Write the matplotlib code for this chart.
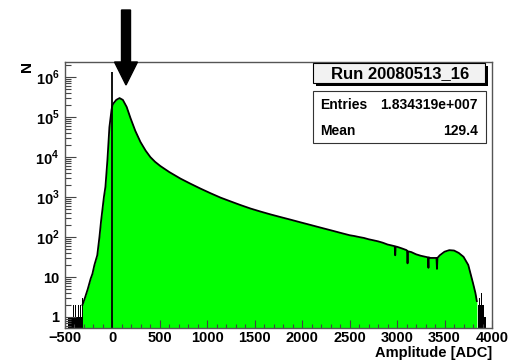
import matplotlib
matplotlib.use('Agg')
import matplotlib.pyplot as plt
from matplotlib.patches import Rectangle, FancyArrow
from matplotlib.ticker import FixedLocator, FixedFormatter, MultipleLocator, LogLocator, NullFormatter
import numpy as np

plt.rcParams['font.family'] = ['Liberation Sans', 'DejaVu Sans']
plt.rcParams['font.weight'] = 'bold'
plt.rcParams['mathtext.fontset'] = 'custom'
plt.rcParams['mathtext.rm'] = 'Liberation Sans:bold'
plt.rcParams['mathtext.bf'] = 'Liberation Sans:bold'

# amplitude spectrum (ADC, counts)
adc = [-316, -290, -260, -230, -211, -190, -160, -137, -120, -105, -90, -74, -53, -32, -10, 0,
       10, 40, 75, 110, 150, 190, 240, 295, 350, 400, 450, 506, 600, 717, 820, 928, 1030, 1139,
       1250, 1350, 1456, 1561, 1665, 1772, 1880, 1983, 2090, 2194, 2300, 2405,
       2500, 2550, 2600, 2650, 2700, 2750, 2800, 2850, 2900, 2950, 2975, 2980, 2985, 3000, 3050,
       3100, 3105, 3110, 3115, 3150, 3200, 3250, 3300, 3325, 3330, 3335, 3350, 3400, 3415, 3420,
       3425, 3450, 3500, 3550, 3600, 3650, 3700, 3750, 3800, 3825, 3840]
counts = [2, 3, 5, 9, 12, 20, 35, 100, 250, 500, 1000, 1800, 8400, 56000, 150000, 200000,
          220000, 270000, 300000, 270000, 180000, 95000, 46000, 24000, 14500, 10000, 7600, 5960,
          4220, 2900, 2175, 1630, 1260, 970, 772, 631, 516, 434, 369, 316, 271, 233, 200, 172,
          148, 127, 111, 106, 100, 95, 88, 83, 78, 72, 65, 61, 59, 35, 58, 57, 52,
          47, 45, 22, 44, 42, 37, 34, 32, 31, 17, 31, 30, 30, 30, 16, 30, 35, 43, 47, 46, 40,
          32, 20, 7, 4, 2.5]

# pedestal spike
ped_adc = 0
ped_count = 1.33e6

# sparse noise bins at both ends
noise_lo_adc = [-470, -460, -450, -440, -430, -420, -410, -400, -390, -380, -370, -360, -350, -340, -330, -320]
noise_lo = [1, 1, 1, 1, 1, 2, 1, 1, 2, 1, 1, 2, 1, 2, 1, 3]
noise_hi_adc = [3850, 3860, 3870, 3880, 3890, 3900, 3910, 3920, 3930]
noise_hi = [2, 3, 2, 4, 2, 1, 2, 1, 1]

run_title = 'Run 20080513_16'
entries = '1.834319e+007'
mean = '129.4'

W, H = 512, 360
fig = plt.figure(figsize=(W / 100, H / 100), dpi=100)
ax = fig.add_axes([65 / W, 1 - 328 / H, (492 - 65) / W, (328 - 62) / H])

ymin, ymax = 0.53, 2.4e6
ax.set_yscale('log')
ax.set_xlim(-500, 4000)
ax.set_ylim(ymin, ymax)

ax.bar(noise_lo_adc, noise_lo, width=10, bottom=0.01, color='k', align='edge')
ax.bar(noise_hi_adc, noise_hi, width=10, bottom=0.01, color='k', align='edge')
ax.fill_between(adc, 0.01, counts, color='#00ff00', lw=0)
ax.plot(adc, counts, color='k', lw=1.3)
ax.vlines(ped_adc, 0.01, ped_count, color='k', lw=1.3)

# ticks
ax.xaxis.set_major_locator(MultipleLocator(500))
ax.xaxis.set_minor_locator(MultipleLocator(100))
yt = [1, 10, 1e2, 1e3, 1e4, 1e5, 1e6]
ylab = ['1', '10', r'$10^{2}$', r'$10^{3}$', r'$10^{4}$', r'$10^{5}$', r'$10^{6}$']
ax.yaxis.set_major_locator(FixedLocator(yt))
ax.yaxis.set_major_formatter(FixedFormatter(ylab))
ax.yaxis.set_minor_locator(LogLocator(base=10, subs=np.arange(2, 10)))
ax.yaxis.set_minor_formatter(NullFormatter())
ax.tick_params(axis='both', which='both', direction='in', color='#444444', labelsize=10.5)
ax.tick_params(axis='x', which='major', length=6, width=0.8, pad=2)
ax.tick_params(axis='x', which='minor', length=3, width=0.8)
ax.tick_params(axis='y', which='major', length=8, width=0.8, pad=4)
ax.tick_params(axis='y', which='minor', length=4, width=0.8)
for lbl in ax.get_xticklabels() + ax.get_yticklabels():
    lbl.set_fontweight('bold')
for s in ax.spines.values():
    s.set_color('#555555')
    s.set_linewidth(1)

fig.text(492 / W, 1 - 353 / H, 'Amplitude [ADC]', ha='right', va='center', fontsize=10.5, fontweight='bold')
fig.text(27 / W, 1 - 67 / H, 'N', ha='center', va='center', rotation=90, fontsize=11, fontweight='bold')


def px_rect(x0, y0, x1, y1, **kw):
    r = Rectangle((x0 / W, 1 - y1 / H), (x1 - x0) / W, (y1 - y0) / H, transform=fig.transFigure, **kw)
    fig.add_artist(r)


# title box with shadow
px_rect(316, 66, 488, 86, facecolor='k', lw=0)
px_rect(313, 63, 485, 83, facecolor='#f2f2f2', edgecolor='k', lw=0.8)
fig.text(400 / W, 1 - 73.5 / H, run_title, ha='center', va='center', fontsize=12, fontweight='bold')

# stats box
px_rect(314, 92, 487, 144, facecolor='#999999', lw=0)
px_rect(313, 91, 486, 143, facecolor='white', edgecolor='#333333', lw=0.8)
fig.text(320 / W, 1 - 105 / H, 'Entries', ha='left', va='center', fontsize=10, fontweight='bold')
fig.text(478 / W, 1 - 105 / H, entries, ha='right', va='center', fontsize=10, fontweight='bold')
fig.text(320 / W, 1 - 131 / H, 'Mean', ha='left', va='center', fontsize=10, fontweight='bold')
fig.text(478 / W, 1 - 131 / H, mean, ha='right', va='center', fontsize=10, fontweight='bold')

# arrow pointing at the pedestal region
arr = FancyArrow(126 / W, 1 - 10 / H, 0, -(85 - 10) / H, width=9 / W, head_width=23 / W,
                 head_length=23 / H, length_includes_head=True, color='k', transform=fig.transFigure)
fig.add_artist(arr)

fig.savefig('out.png', dpi=100)
